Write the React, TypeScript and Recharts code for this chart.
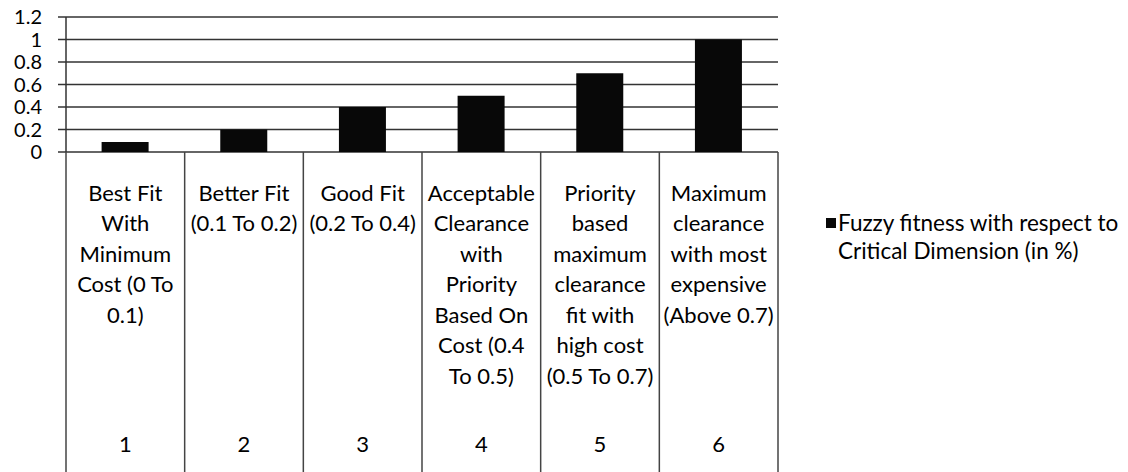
import { BarChart, Bar, XAxis, YAxis, CartesianGrid } from "recharts";

const categoryIds = ["1", "2", "3", "4", "5", "6"];

const categoryLabels = [
  "Best Fit\nWith\nMinimum\nCost (0 To\n0.1)",
  "Better Fit\n(0.1 To 0.2)",
  "Good Fit\n(0.2 To 0.4)",
  "Acceptable\nClearance\nwith\nPriority\nBased On\nCost (0.4\nTo 0.5)",
  "Priority\nbased\nmaximum\nclearance\nfit with\nhigh cost\n(0.5 To 0.7)",
  "Maximum\nclearance\nwith most\nexpensive\n(Above 0.7)",
];

const fitnessValues = [0.09, 0.2, 0.4, 0.5, 0.7, 1];

const yTicks = [0, 0.2, 0.4, 0.6, 0.8, 1, 1.2];

const seriesName = "Fuzzy fitness with respect to\nCritical Dimension (in %)";

const data = categoryIds.map((id, i) => ({
  id,
  label: categoryLabels[i],
  value: fitnessValues[i],
}));

const FONT = "Lato, 'Open Sans', sans-serif";
const FS = 22;
const CHART_W = 1128;
const CHART_H = 472;
const AXIS_Y = 152;
const MARGIN = { top: 17, right: 350, left: 0, bottom: 0 };
const Y_AXIS_W = 66;
const BAND = (CHART_W - MARGIN.right - Y_AXIS_W) / categoryIds.length;

// table-like category axis: label text, number row and cell borders
function CategoryTick(props: any) {
  const { x, y, index } = props;
  const row = data[index];
  const lines = row.label.split("\n");
  return (
    <g>
      {index === 0 && (
        <line x1={x - BAND / 2} x2={x - BAND / 2} y1={y} y2={CHART_H} stroke="#444" strokeWidth={1.5} />
      )}
      <line x1={x + BAND / 2} x2={x + BAND / 2} y1={y} y2={CHART_H} stroke="#444" strokeWidth={1.5} />
      <text textAnchor="middle" fontFamily={FONT} fontSize={FS} fill="#000">
        {lines.map((ln: string, i: number) => (
          <tspan key={i} x={x} y={y + 40 + i * 30.5} dominantBaseline="central">
            {ln}
          </tspan>
        ))}
      </text>
      <text x={x} y={y + 291} textAnchor="middle" dominantBaseline="central" fontFamily={FONT} fontSize={FS} fill="#000">
        {row.id}
      </text>
    </g>
  );
}

function LegendBox() {
  const lines = seriesName.split("\n");
  return (
    <div
      style={{
        position: "absolute",
        left: 826,
        top: 209,
        fontFamily: FONT,
        fontSize: 22.5,
        color: "#000",
        lineHeight: "28px",
      }}
    >
      <span style={{ position: "absolute", left: 0, top: 9, width: 10, height: 10, background: "#080808" }} />
      {lines.map((ln, i) => (
        <div key={i} style={{ paddingLeft: 12, whiteSpace: "nowrap" }}>
          {ln}
        </div>
      ))}
    </div>
  );
}

export default function App() {
  return (
    <div style={{ position: "absolute", left: 0, top: 0, width: CHART_W, height: CHART_H, background: "#fff" }}>
      <BarChart width={CHART_W} height={CHART_H} data={data} margin={MARGIN} barCategoryGap="30%">
        <CartesianGrid vertical={false} stroke="#333" strokeWidth={1.5} />
        <XAxis
          dataKey="id"
          axisLine={false}
          tickLine={false}
          tickSize={0}
          tickMargin={0}
          height={CHART_H - AXIS_Y}
          interval={0}
          tick={<CategoryTick />}
        />
        <YAxis
          domain={[0, 1.2]}
          ticks={yTicks}
          width={Y_AXIS_W}
          tickSize={8}
          tickMargin={16}
          interval={0}
          axisLine={{ stroke: "#333", strokeWidth: 1.5 }}
          tickLine={{ stroke: "#333", strokeWidth: 1.5 }}
          tick={{ fontFamily: FONT, fontSize: 20, fill: "#000" }}
        />
        <Bar dataKey="value" name={seriesName} fill="#080808" isAnimationActive={false} />
      </BarChart>
      <LegendBox />
    </div>
  );
}
